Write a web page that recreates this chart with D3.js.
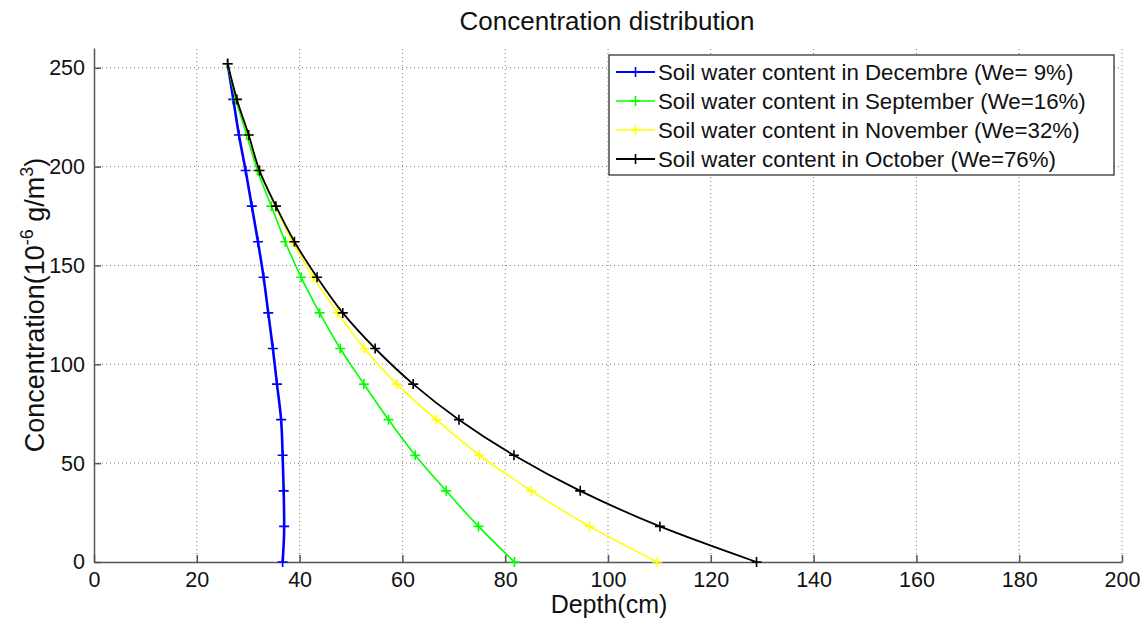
<!DOCTYPE html>
<html>
<head>
<meta charset="utf-8">
<script src="https://cdn.jsdelivr.net/npm/d3@7"></script>
<style>
  body { margin: 0; background: #fff; }
  svg { font-family: "Liberation Sans", Arial, sans-serif; }
</style>
</head>
<body>
<div id="chart"></div>
<script>
// concentration levels (10^-6 g/m3) where the depths were sampled
const concentration = [0, 18, 36, 54, 72, 90, 108, 126, 144, 162, 180, 198, 216, 234, 252];

// depth (cm) for each month
const depthDecembre  = [36.7, 37.0, 36.9, 36.7, 36.4, 35.6, 34.8, 33.9, 33.0, 31.9, 30.7, 29.5, 28.2, 27.1, 26.0];
const depthSeptember = [81.8, 74.8, 68.5, 62.5, 57.3, 52.5, 47.9, 43.9, 40.3, 37.2, 34.5, 31.8, 29.7, 27.6, 26.0];
const depthNovember  = [109.6, 96.4, 85.1, 75.0, 66.6, 58.9, 52.6, 47.4, 42.7, 38.6, 35.3, 32.2, 30.0, 27.8, 26.0];
const depthOctober   = [128.9, 110.1, 94.6, 81.7, 71.0, 62.1, 54.7, 48.4, 43.4, 39.0, 35.4, 32.2, 30.1, 27.8, 26.0];

const seriesNames = [
  'Soil water content in Decembre (We= 9%)',
  'Soil water content in September (We=16%)',
  'Soil water content in November (We=32%)',
  'Soil water content in October (We=76%)'
];

const xTicks = [0, 20, 40, 60, 80, 100, 120, 140, 160, 180, 200];
const yTicks = [0, 50, 100, 150, 200, 250];

const width = 1146, height = 621;
const margin = { top: 48, right: 24, bottom: 59, left: 94 };

const series = [
  { name: seriesNames[0], depth: depthDecembre, color: '#0000ff', width: 2.6 },
  { name: seriesNames[1], depth: depthSeptember, color: '#00ff00', width: 1.6 },
  { name: seriesNames[2], depth: depthNovember, color: '#ffff00', width: 1.6 },
  { name: seriesNames[3], depth: depthOctober, color: '#000000', width: 1.8 }
];

const svg = d3.select('#chart').append('svg')
  .attr('width', width)
  .attr('height', height);

const x = d3.scaleLinear().domain([0, 200]).range([margin.left, width - margin.right]);
const y = d3.scaleLinear().domain([0, 260]).range([height - margin.bottom, margin.top]);

// grid
const grid = svg.append('g').attr('class', 'grid')
  .attr('stroke', '#7a7a7a').attr('stroke-width', 1).attr('stroke-dasharray', '1,3');

grid.selectAll('line.vx')
  .data(xTicks.slice(1))
  .enter().append('line')
  .attr('x1', d => x(d)).attr('x2', d => x(d))
  .attr('y1', y(0)).attr('y2', margin.top);

grid.selectAll('line.hy')
  .data(yTicks.slice(1))
  .enter().append('line')
  .attr('x1', x(0)).attr('x2', x(200))
  .attr('y1', d => y(d)).attr('y2', d => y(d));

// axes (ticks pointing inward like matlab)
const xAxis = d3.axisBottom(x).tickValues(xTicks).tickSizeInner(-7).tickSizeOuter(0).tickPadding(10);
const yAxis = d3.axisLeft(y).tickValues(yTicks).tickSizeInner(-7).tickSizeOuter(0).tickPadding(9);

const gx = svg.append('g')
  .attr('transform', 'translate(0,' + y(0) + ')')
  .call(xAxis);

const gy = svg.append('g')
  .attr('transform', 'translate(' + x(0) + ',0)')
  .call(yAxis);

[gx, gy].forEach(g => {
  g.select('.domain').attr('stroke', '#555').attr('stroke-width', 1.5);
  g.selectAll('.tick line').attr('stroke', '#555').attr('stroke-width', 1.5);
  g.selectAll('.tick text')
    .attr('fill', '#111')
    .style('font-size', '21.5px')
    .style('font-family', '"Liberation Sans", Arial, sans-serif');
});
gx.selectAll('.tick text').attr('dy', '0.71em');

// lines
const line = d3.line()
  .x(d => x(d[0]))
  .y(d => y(d[1]))
  .curve(d3.curveMonotoneY);

const plus = 5;

series.forEach(s => {
  const pts = s.depth.map((v, i) => [v, concentration[i]]);
  const g = svg.append('g');
  g.append('path')
    .datum(pts)
    .attr('fill', 'none')
    .attr('stroke', s.color)
    .attr('stroke-width', s.width)
    .attr('d', line);
  g.selectAll('path.mk')
    .data(pts)
    .enter().append('path')
    .attr('class', 'mk')
    .attr('stroke', s.color)
    .attr('stroke-width', 1.6)
    .attr('d', d => {
      const px = x(d[0]), py = y(d[1]);
      return 'M' + (px - plus) + ',' + py + 'H' + (px + plus) + 'M' + px + ',' + (py - plus) + 'V' + (py + plus);
    });
});

// legend
const legend = svg.append('g').attr('transform', 'translate(609,55)');
legend.append('rect')
  .attr('width', 505).attr('height', 120)
  .attr('fill', '#fff')
  .attr('stroke', '#333').attr('stroke-width', 1.3);

const rows = legend.selectAll('g.row')
  .data(series)
  .enter().append('g')
  .attr('transform', (d, i) => 'translate(0,' + (17 + i * 29) + ')');

rows.append('line')
  .attr('x1', 7).attr('x2', 46)
  .attr('stroke', d => d.color)
  .attr('stroke-width', d => Math.min(d.width, 2));
rows.append('path')
  .attr('stroke', d => d.color)
  .attr('stroke-width', 1.6)
  .attr('d', 'M' + (26.5 - plus) + ',0H' + (26.5 + plus) + 'M26.5,' + (-plus) + 'V' + plus);
rows.append('text')
  .attr('x', 49)
  .attr('dy', '0.36em')
  .attr('fill', '#111')
  .style('font-size', '22.3px')
  .text(d => d.name);

// title and axis labels
svg.append('text')
  .attr('x', 607).attr('y', 30)
  .attr('text-anchor', 'middle')
  .attr('fill', '#111')
  .style('font-size', '26px')
  .text('Concentration distribution');

svg.append('text')
  .attr('x', 609).attr('y', 613)
  .attr('text-anchor', 'middle')
  .attr('fill', '#111')
  .style('font-size', '25px')
  .text('Depth(cm)');

const yl = svg.append('text')
  .attr('transform', 'translate(44,305) rotate(-90)')
  .attr('text-anchor', 'middle')
  .attr('fill', '#111')
  .style('font-size', '27px');
yl.append('tspan').text('Concentration(10');
yl.append('tspan').attr('dy', -11).style('font-size', '18px').text('-6');
yl.append('tspan').attr('dy', 11).text(' g/m');
yl.append('tspan').attr('dy', -11).style('font-size', '18px').text('3');
yl.append('tspan').attr('dy', 11).text(')');
</script>
</body>
</html>
